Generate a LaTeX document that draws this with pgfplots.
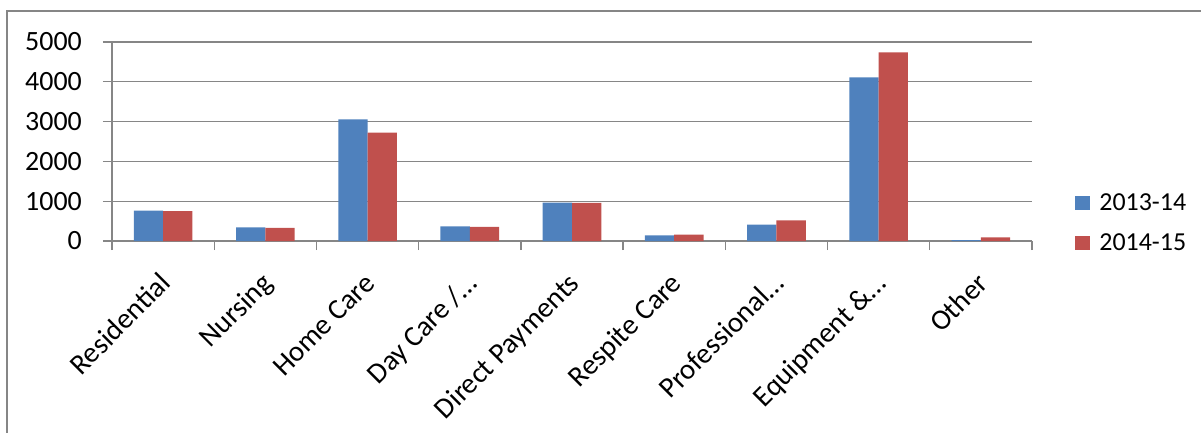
\documentclass[border=0pt]{standalone}
\usepackage{fontspec}
\setmainfont{Carlito}
\usepackage{pgfplots}
\pgfplotsset{compat=1.18}
\definecolor{exblue}{HTML}{4F81BD}
\definecolor{exred}{HTML}{C0504D}
\definecolor{gridgray}{HTML}{868686}
\pgfplotstableread{
idx y1 y2
0 765 748
1 345 328
2 3059 2723
3 370 353
4 966 958
5 143 160
6 412 521
7 4109 4739
8 25 92
}\datatable
\begin{document}
\begin{tikzpicture}[x=1bp,y=1bp]
\path[use as bounding box] (0,0) rectangle (1201,432);
\draw[gridgray, line width=1.3bp] (7,-30) rectangle (1240,421);
\begin{axis}[
  at={(112bp,191bp)}, anchor=south west,
  scale only axis, width=920bp, height=199bp,
  ybar=0pt, bar width=29.3bp,
  xmin=-0.5, xmax=8.5, ymin=0, ymax=5000,
  axis x line=bottom, axis y line=left,
  axis line style={gridgray, line width=1.3bp, -},
  ytick={0,1000,...,5000}, ymajorgrids,
  grid style={gridgray, line width=1.3bp},
  scaled ticks=false,
  /pgf/number format/assume math mode=true,
  /pgf/number format/1000 sep={},
  tick align=outside,
  major tick length=9bp, minor tick length=9bp,
  tick style={gridgray, line width=1.3bp},
  major x tick style={draw=none},
  xtick={0,...,8},
  minor xtick={-0.5,0.5,...,8.5},
  xticklabels={Residential, Nursing, Home Care, Day Care /…, Direct Payments, Respite Care, Professional…, Equipment \&…, Other},
  xticklabel style={font=\fontsize{29}{34}\selectfont, anchor=base east, inner sep=0pt, xshift=9bp, yshift=-35bp, rotate=45},
  yticklabel style={font=\fontsize{28}{33}\selectfont, anchor=east, inner sep=0pt, xshift=-21bp},
  legend style={draw=none, fill=none, at={(1.047,0.09)}, anchor=west,
    font=\fontsize{26}{30}\selectfont, row sep=18bp, inner sep=0pt,
    /tikz/every odd column/.append style={column sep=7bp}},
  legend cell align=left,
]
\addplot[fill=exblue, draw=none, legend image code/.code={\fill[exblue] (0bp,-7bp) rectangle (15bp,7bp);}] table[x=idx, y=y1] {\datatable};
\addplot[fill=exred, draw=none, legend image code/.code={\fill[exred] (0bp,-7bp) rectangle (15bp,7bp);}] table[x=idx, y=y2] {\datatable};
\legend{2013-14, 2014-15}
\end{axis}
\end{tikzpicture}
\end{document}
